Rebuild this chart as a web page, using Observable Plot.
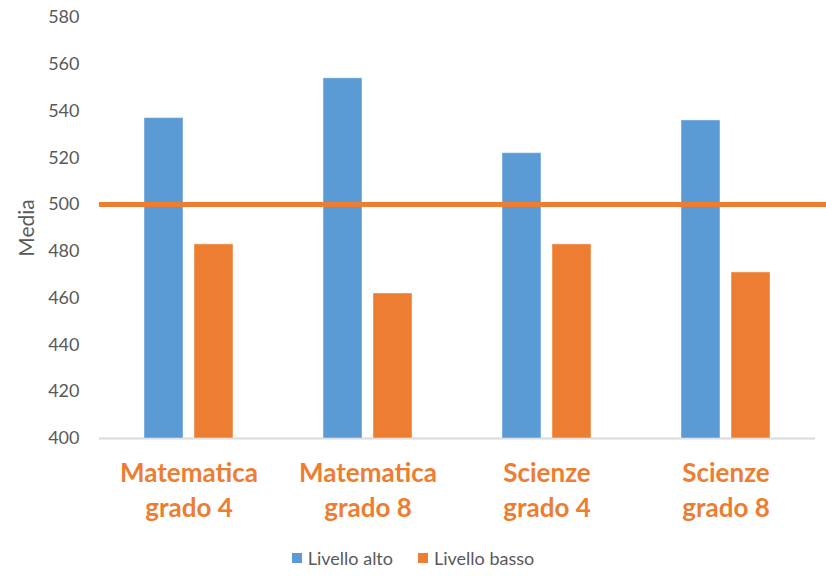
<!DOCTYPE html>
<html>
<head>
<meta charset="utf-8">
<script src="https://cdn.jsdelivr.net/npm/d3@7"></script>
<script src="https://cdn.jsdelivr.net/npm/@observablehq/plot@0.6"></script>
<style>
  html, body { margin: 0; padding: 0; background: #fff; }
  body { width: 826px; height: 576px; position: relative; font-family: Lato, "Open Sans", sans-serif; overflow: hidden; }
  #chart { position: absolute; left: 0; top: 0; }
  #legend { position: absolute; left: 0; top: 547px; width: 826px; height: 22px; display: flex; justify-content: center; align-items: center; font-size: 18px; color: #595959; }
  .item { display: flex; align-items: center; }
  .item + .item { margin-left: 25px; }
  .sw { width: 10px; height: 10px; margin-right: 6px; }
</style>
</head>
<body>
<div id="chart"></div>
<div id="legend"></div>
<script>
// ---- data ----
const categories = ["Matematica grado 4", "Matematica grado 8", "Scienze grado 4", "Scienze grado 8"];
const categoryLabels = ["Matematica\ngrado 4", "Matematica\ngrado 8", "Scienze\ngrado 4", "Scienze\ngrado 8"];
const series = ["Livello alto", "Livello basso"];
const livelloAlto = [537, 554, 522, 536];
const livelloBasso = [483, 462, 483, 471];
const reference = [500];
const yTicks = [400, 420, 440, 460, 480, 500, 520, 540, 560, 580];
const yLabel = "Media";
const colors = ["#5B9BD5", "#ED7D31"];

const rows = [];
categories.forEach((c, i) => {
  rows.push({category: c, series: series[0], value: livelloAlto[i]});
  rows.push({category: c, series: series[1], value: livelloBasso[i]});
});

const chart = Plot.plot({
  width: 826,
  height: 540,
  marginLeft: 99,
  marginRight: 11,
  marginTop: 17,
  marginBottom: 102,
  style: {fontFamily: "Lato, 'Open Sans', sans-serif", background: "white"},
  fx: {
    domain: categories,
    padding: 0,
    label: null,
    tickSize: 0,
    tickPadding: 25,
    tickFormat: d => categoryLabels[categories.indexOf(d)],
    fontSize: 26
  },
  x: {domain: series, paddingInner: 0.216, paddingOuter: 0.863, axis: null},
  y: {domain: [400, 580], ticks: yTicks, tickSize: 0, tickPadding: 20, label: yLabel, labelAnchor: "center", labelOffset: 80},
  color: {domain: series, range: colors},
  marks: [
    Plot.ruleY([400], {stroke: "#d9d9d9", strokeWidth: 2}),
    Plot.barY(rows, {fx: "category", x: "series", y1: 400, y2: "value", fill: "series", stroke: "white", strokeOpacity: 0.45, strokeWidth: 1}),
    Plot.ruleY(reference, {stroke: "#ED7D31", strokeWidth: 5, insetRight: -11})
  ]
});
document.getElementById("chart").appendChild(chart);

// style axes
d3.select(chart).selectAll("[aria-label='fx-axis tick label'] text, [aria-label='fx-axis tick label']")
  .attr("fill", "#ED7D31").attr("font-weight", "bold").attr("font-size", 26);
d3.select(chart).selectAll("[aria-label='fx-axis tick label'] text").each(function() {
  d3.select(this).selectAll("tspan").each(function(_, j) { if (j > 0) d3.select(this).attr("dy", "1.35em"); });
});
d3.select(chart).selectAll("[aria-label='y-axis tick label']").attr("fill", "#595959").attr("font-size", 18);
d3.select(chart).selectAll("[aria-label='y-axis label']").attr("fill", "#595959").attr("font-size", 21)
  .selectAll("text").text(yLabel);

// legend
const legend = d3.select("#legend");
series.forEach((s, i) => {
  const it = legend.append("div").attr("class", "item");
  it.append("div").attr("class", "sw").style("background", colors[i]);
  it.append("span").text(s);
});
</script>
</body>
</html>
